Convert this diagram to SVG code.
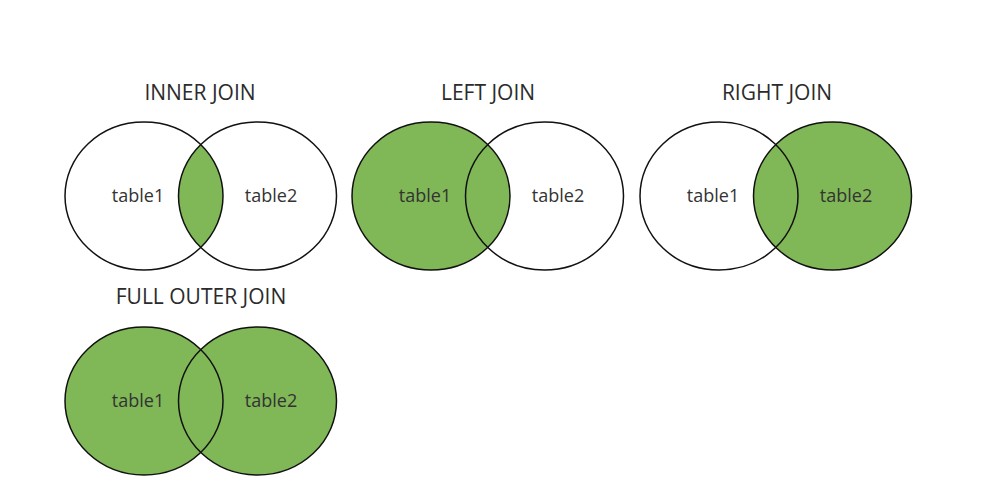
<svg xmlns="http://www.w3.org/2000/svg" width="994" height="499" viewBox="0 0 994 499">
<style>
.title{font-family:"Open Sans","Liberation Sans",sans-serif;font-size:21px;fill:#2b2b2b;text-anchor:middle}
.lbl{font-family:"Open Sans","Liberation Sans",sans-serif;font-size:18px;fill:#333;text-anchor:middle}
.ring{fill:none;stroke:#111;stroke-width:1.5}
.g{fill:#80b757}
</style>
<defs>
<clipPath id="c1"><ellipse cx="144" cy="196" rx="79" ry="74"/></clipPath>
</defs>
<rect width="994" height="499" fill="#fff"/>
<g id="inner-join">
<text class="title" x="200" y="100">INNER JOIN</text>
<ellipse class="g" cx="257.5" cy="196" rx="79" ry="74" clip-path="url(#c1)"/>
<ellipse class="ring" cx="144" cy="196" rx="79" ry="74"/>
<ellipse class="ring" cx="257.5" cy="196" rx="79" ry="74"/>
<text class="lbl" x="138" y="202">table1</text>
<text class="lbl" x="271" y="202">table2</text>
</g>
<g id="left-join">
<text class="title" x="488" y="100">LEFT JOIN</text>
<ellipse class="g" cx="431" cy="196" rx="79" ry="74"/>
<ellipse class="ring" cx="431" cy="196" rx="79" ry="74"/>
<ellipse class="ring" cx="544.5" cy="196" rx="79" ry="74"/>
<text class="lbl" x="425" y="202">table1</text>
<text class="lbl" x="558" y="202">table2</text>
</g>
<g id="right-join">
<text class="title" x="777" y="100">RIGHT JOIN</text>
<ellipse class="g" cx="832.5" cy="196" rx="79" ry="74"/>
<ellipse class="ring" cx="719" cy="196" rx="79" ry="74"/>
<ellipse class="ring" cx="832.5" cy="196" rx="79" ry="74"/>
<text class="lbl" x="713" y="202">table1</text>
<text class="lbl" x="846" y="202">table2</text>
</g>
<g id="full-outer-join">
<text class="title" x="201" y="304">FULL OUTER JOIN</text>
<ellipse class="g" cx="144" cy="401" rx="79" ry="74"/>
<ellipse class="g" cx="257.5" cy="401" rx="79" ry="74"/>
<ellipse class="ring" cx="144" cy="401" rx="79" ry="74"/>
<ellipse class="ring" cx="257.5" cy="401" rx="79" ry="74"/>
<text class="lbl" x="138" y="407">table1</text>
<text class="lbl" x="271" y="407">table2</text>
</g>
</svg>
